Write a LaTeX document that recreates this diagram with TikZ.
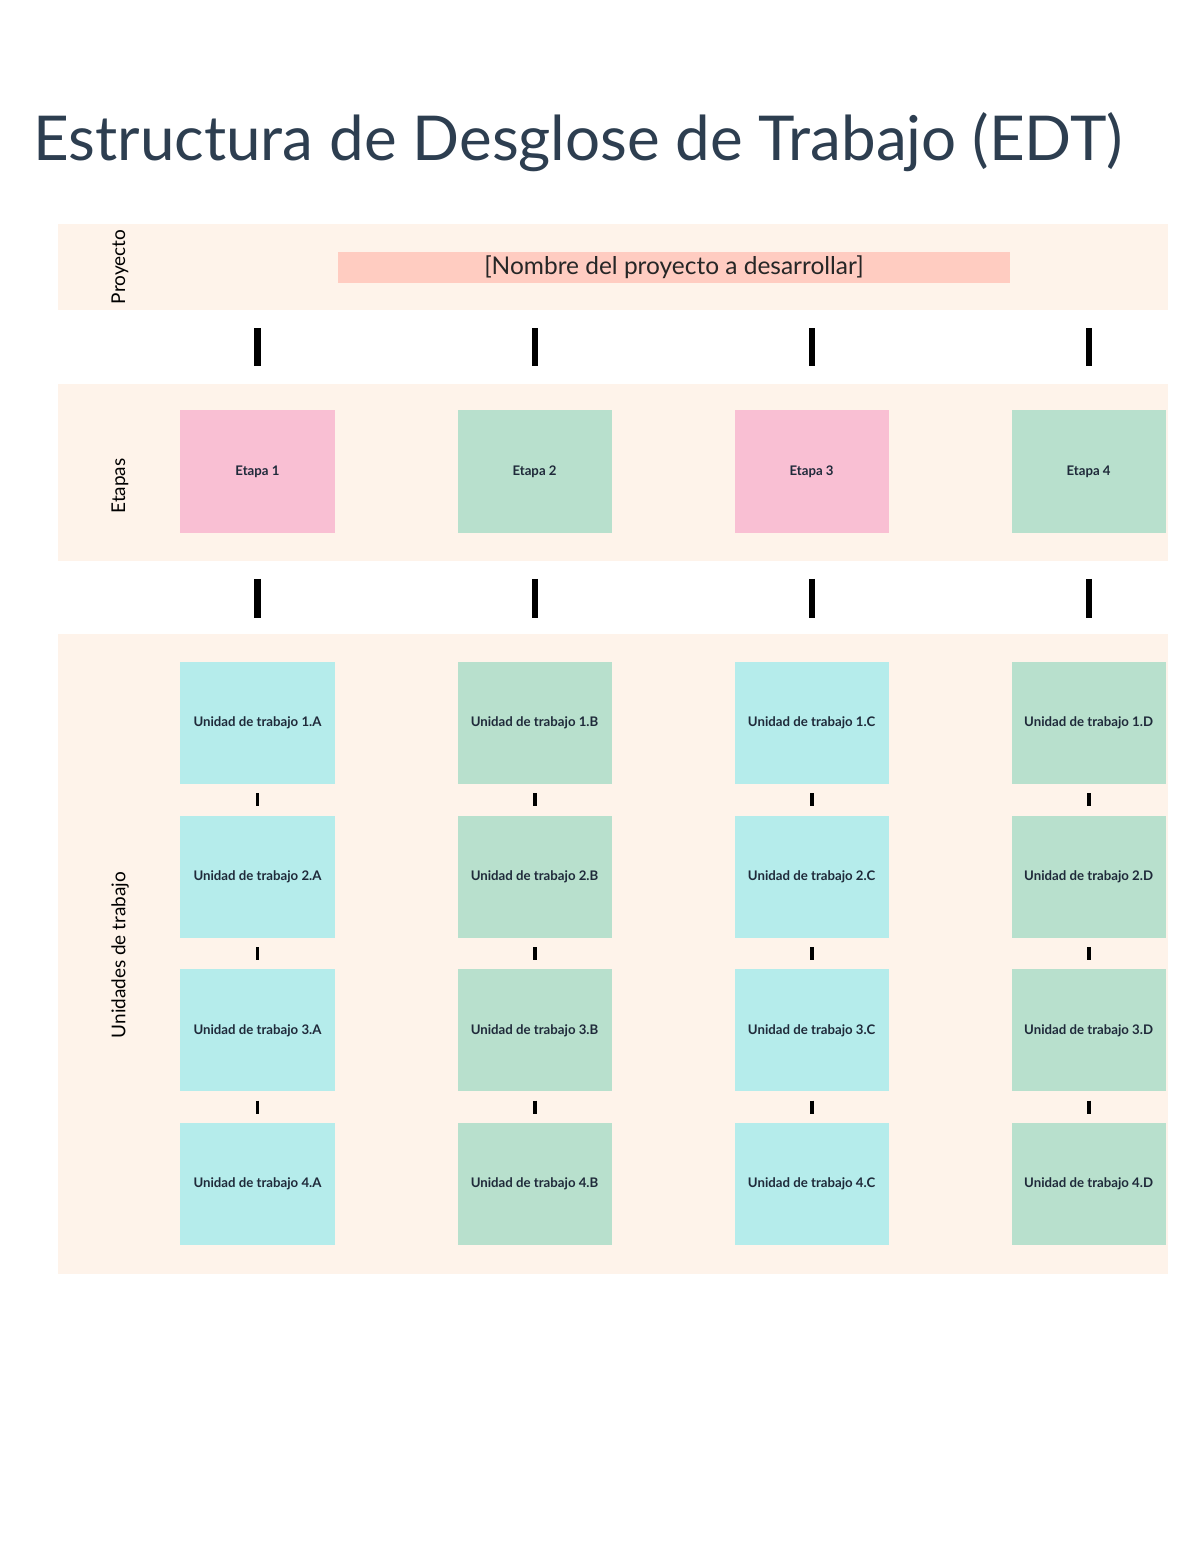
\documentclass[tikz,border=0pt]{standalone}
\usepackage{fontspec}
\setmainfont{Lato}
\usetikzlibrary{positioning}

\definecolor{colBanda}{HTML}{FEF3EA}
\definecolor{colRosa}{HTML}{F9BFD3}
\definecolor{colVerde}{HTML}{B8E0CD}
\definecolor{colCian}{HTML}{B5ECEB}
\definecolor{colSalmon}{HTML}{FFCCC1}
\definecolor{colTitulo}{HTML}{2D3E50}
\definecolor{colTexto}{HTML}{1F2A3A}

\tikzset{
  banda/.style={fill=colBanda, minimum width=27.75cm, inner sep=0pt},
  caja/.style={minimum width=3.85cm, inner sep=0pt, text=colTexto, font=\bfseries\fontsize{9.4}{11}\selectfont},
  etapa/.style={caja, minimum height=3.05cm},
  unidad/.style={caja, minimum height=3.05cm},
  rotulo/.style={rotate=90, font=\fontsize{13.5}{15}\selectfont},
  enlace/.style={line width=4.3pt},
  enlacec/.style={line width=2.8pt, shorten <=0.225cm, shorten >=0.225cm}
}

\begin{document}
\begin{tikzpicture}[x=0.025cm, y=-0.025cm]
        \useasboundingbox (0,0) rectangle (1200,1553);

        % Titulo
        \node[anchor=base west, inner sep=0pt, text=colTitulo, font=\fontsize{44}{50}\selectfont] (titulo) at (33,160) {Estructura de Desglose de Trabajo (EDT)};

        % Bandas de fondo
        \node[banda, minimum height=2.15cm] (bproy) at (613,267) {};
        \node[banda, minimum height=4.425cm] (betap) at (613,472.5) {};
        \node[banda, minimum height=16cm] (bunid) at (613,954) {};

        \node[rotulo] (lproy) at (120,267) {Proyecto};
        \node[rotulo] (letap) at (120,486) {Etapas};
        \node[rotulo] (lunid) at (120,955) {Unidades de trabajo};

        % Proyecto
        \node[fill=colSalmon, minimum width=16.8cm, minimum height=0.775cm, inner sep=0pt, font=\fontsize{17.4}{19}\selectfont, text=black!85] (nombre) at (674,267.5) {[Nombre del proyecto a desarrollar]};

        % Etapas
        \node[etapa, fill=colRosa] (e1) at (257.5,471.5) {Etapa 1};
        \node[etapa, fill=colVerde, right=3.06cm of e1] (e2) {Etapa 2};
        \node[etapa, fill=colRosa, right=3.06cm of e2] (e3) {Etapa 3};
        \node[etapa, fill=colVerde, right=3.06cm of e3] (e4) {Etapa 4};

        % Unidades de trabajo
        \node[unidad, fill=colCian, below=3.225cm of e1] (u1a) {Unidad de trabajo 1.A};
        \node[unidad, fill=colCian, below=0.775cm of u1a] (u2a) {Unidad de trabajo 2.A};
        \node[unidad, fill=colCian, below=0.775cm of u2a] (u3a) {Unidad de trabajo 3.A};
        \node[unidad, fill=colCian, below=0.775cm of u3a] (u4a) {Unidad de trabajo 4.A};

        \node[unidad, fill=colVerde, below=3.225cm of e2] (u1b) {Unidad de trabajo 1.B};
        \node[unidad, fill=colVerde, below=0.775cm of u1b] (u2b) {Unidad de trabajo 2.B};
        \node[unidad, fill=colVerde, below=0.775cm of u2b] (u3b) {Unidad de trabajo 3.B};
        \node[unidad, fill=colVerde, below=0.775cm of u3b] (u4b) {Unidad de trabajo 4.B};

        \node[unidad, fill=colCian, below=3.225cm of e3] (u1c) {Unidad de trabajo 1.C};
        \node[unidad, fill=colCian, below=0.775cm of u1c] (u2c) {Unidad de trabajo 2.C};
        \node[unidad, fill=colCian, below=0.775cm of u2c] (u3c) {Unidad de trabajo 3.C};
        \node[unidad, fill=colCian, below=0.775cm of u3c] (u4c) {Unidad de trabajo 4.C};

        \node[unidad, fill=colVerde, below=3.225cm of e4] (u1d) {Unidad de trabajo 1.D};
        \node[unidad, fill=colVerde, below=0.775cm of u1d] (u2d) {Unidad de trabajo 2.D};
        \node[unidad, fill=colVerde, below=0.775cm of u2d] (u3d) {Unidad de trabajo 3.D};
        \node[unidad, fill=colVerde, below=0.775cm of u3d] (u4d) {Unidad de trabajo 4.D};

        % Conectores
        \foreach \c/\e in {a/e1, b/e2, c/e3, d/e4} {
          \draw[enlace, shorten <=1.125cm, shorten >=1.1cm] (nombre.south -| \e.north) -- (\e.north);
          \draw[enlace, shorten <=1.15cm, shorten >=1.1cm] (\e.south) -- (u1\c.north);
          \draw[enlacec] (u1\c) -- (u2\c);
          \draw[enlacec] (u2\c) -- (u3\c);
          \draw[enlacec] (u3\c) -- (u4\c);
        }

    \end{tikzpicture}
\end{document}
